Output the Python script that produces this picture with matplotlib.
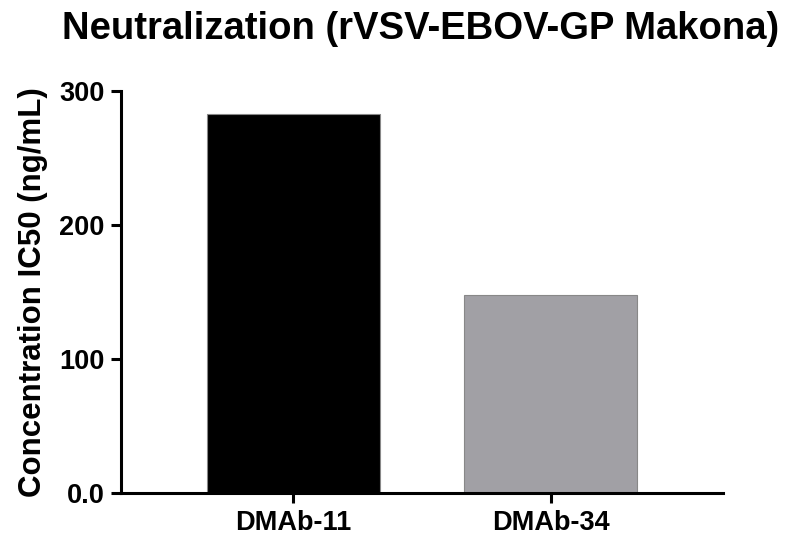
import matplotlib
matplotlib.use("Agg")
import matplotlib.pyplot as plt

categories = ["DMAb-11", "DMAb-34"]
values = [283, 148]
colors = ["#000000", "#A1A0A5"]
yticks = [0, 100, 200, 300]
ytick_labels = ["0.0", "100", "200", "300"]

plt.rcParams['font.family'] = ['Liberation Sans', 'DejaVu Sans']

fig = plt.figure(figsize=(7.9, 5.44), dpi=100)
ax = fig.add_axes([121/790, 51/544, (723-121)/790, (493-91)/544])

x = list(range(len(categories)))
ax.bar(x, values, width=0.67, color=colors, edgecolor="#888888", linewidth=0.8, zorder=2)

ax.set_xlim(-0.67, 1.67)
ax.set_ylim(0, 300)
ax.set_yticks(yticks)
ax.set_yticklabels(ytick_labels)
ax.set_xticks(x)
ax.set_xticklabels(categories)

for s in ["top", "right"]:
    ax.spines[s].set_visible(False)
for s in ["left", "bottom"]:
    ax.spines[s].set_linewidth(2.2)
    ax.spines[s].set_zorder(3)

ax.tick_params(axis="both", length=7, width=2.2, labelsize=19.5, pad=5)
for lab in ax.get_xticklabels() + ax.get_yticklabels():
    lab.set_fontweight("bold")

ax.set_ylabel("Concentration IC50 (ng/mL)", fontsize=22.5, fontweight="bold", labelpad=8)
fig.text(0.532, 1 - 39/544, "Neutralization (rVSV-EBOV-GP Makona)", ha="center", va="baseline",
         fontsize=27.5, fontweight="bold")

fig.savefig("out.png", dpi=100)
